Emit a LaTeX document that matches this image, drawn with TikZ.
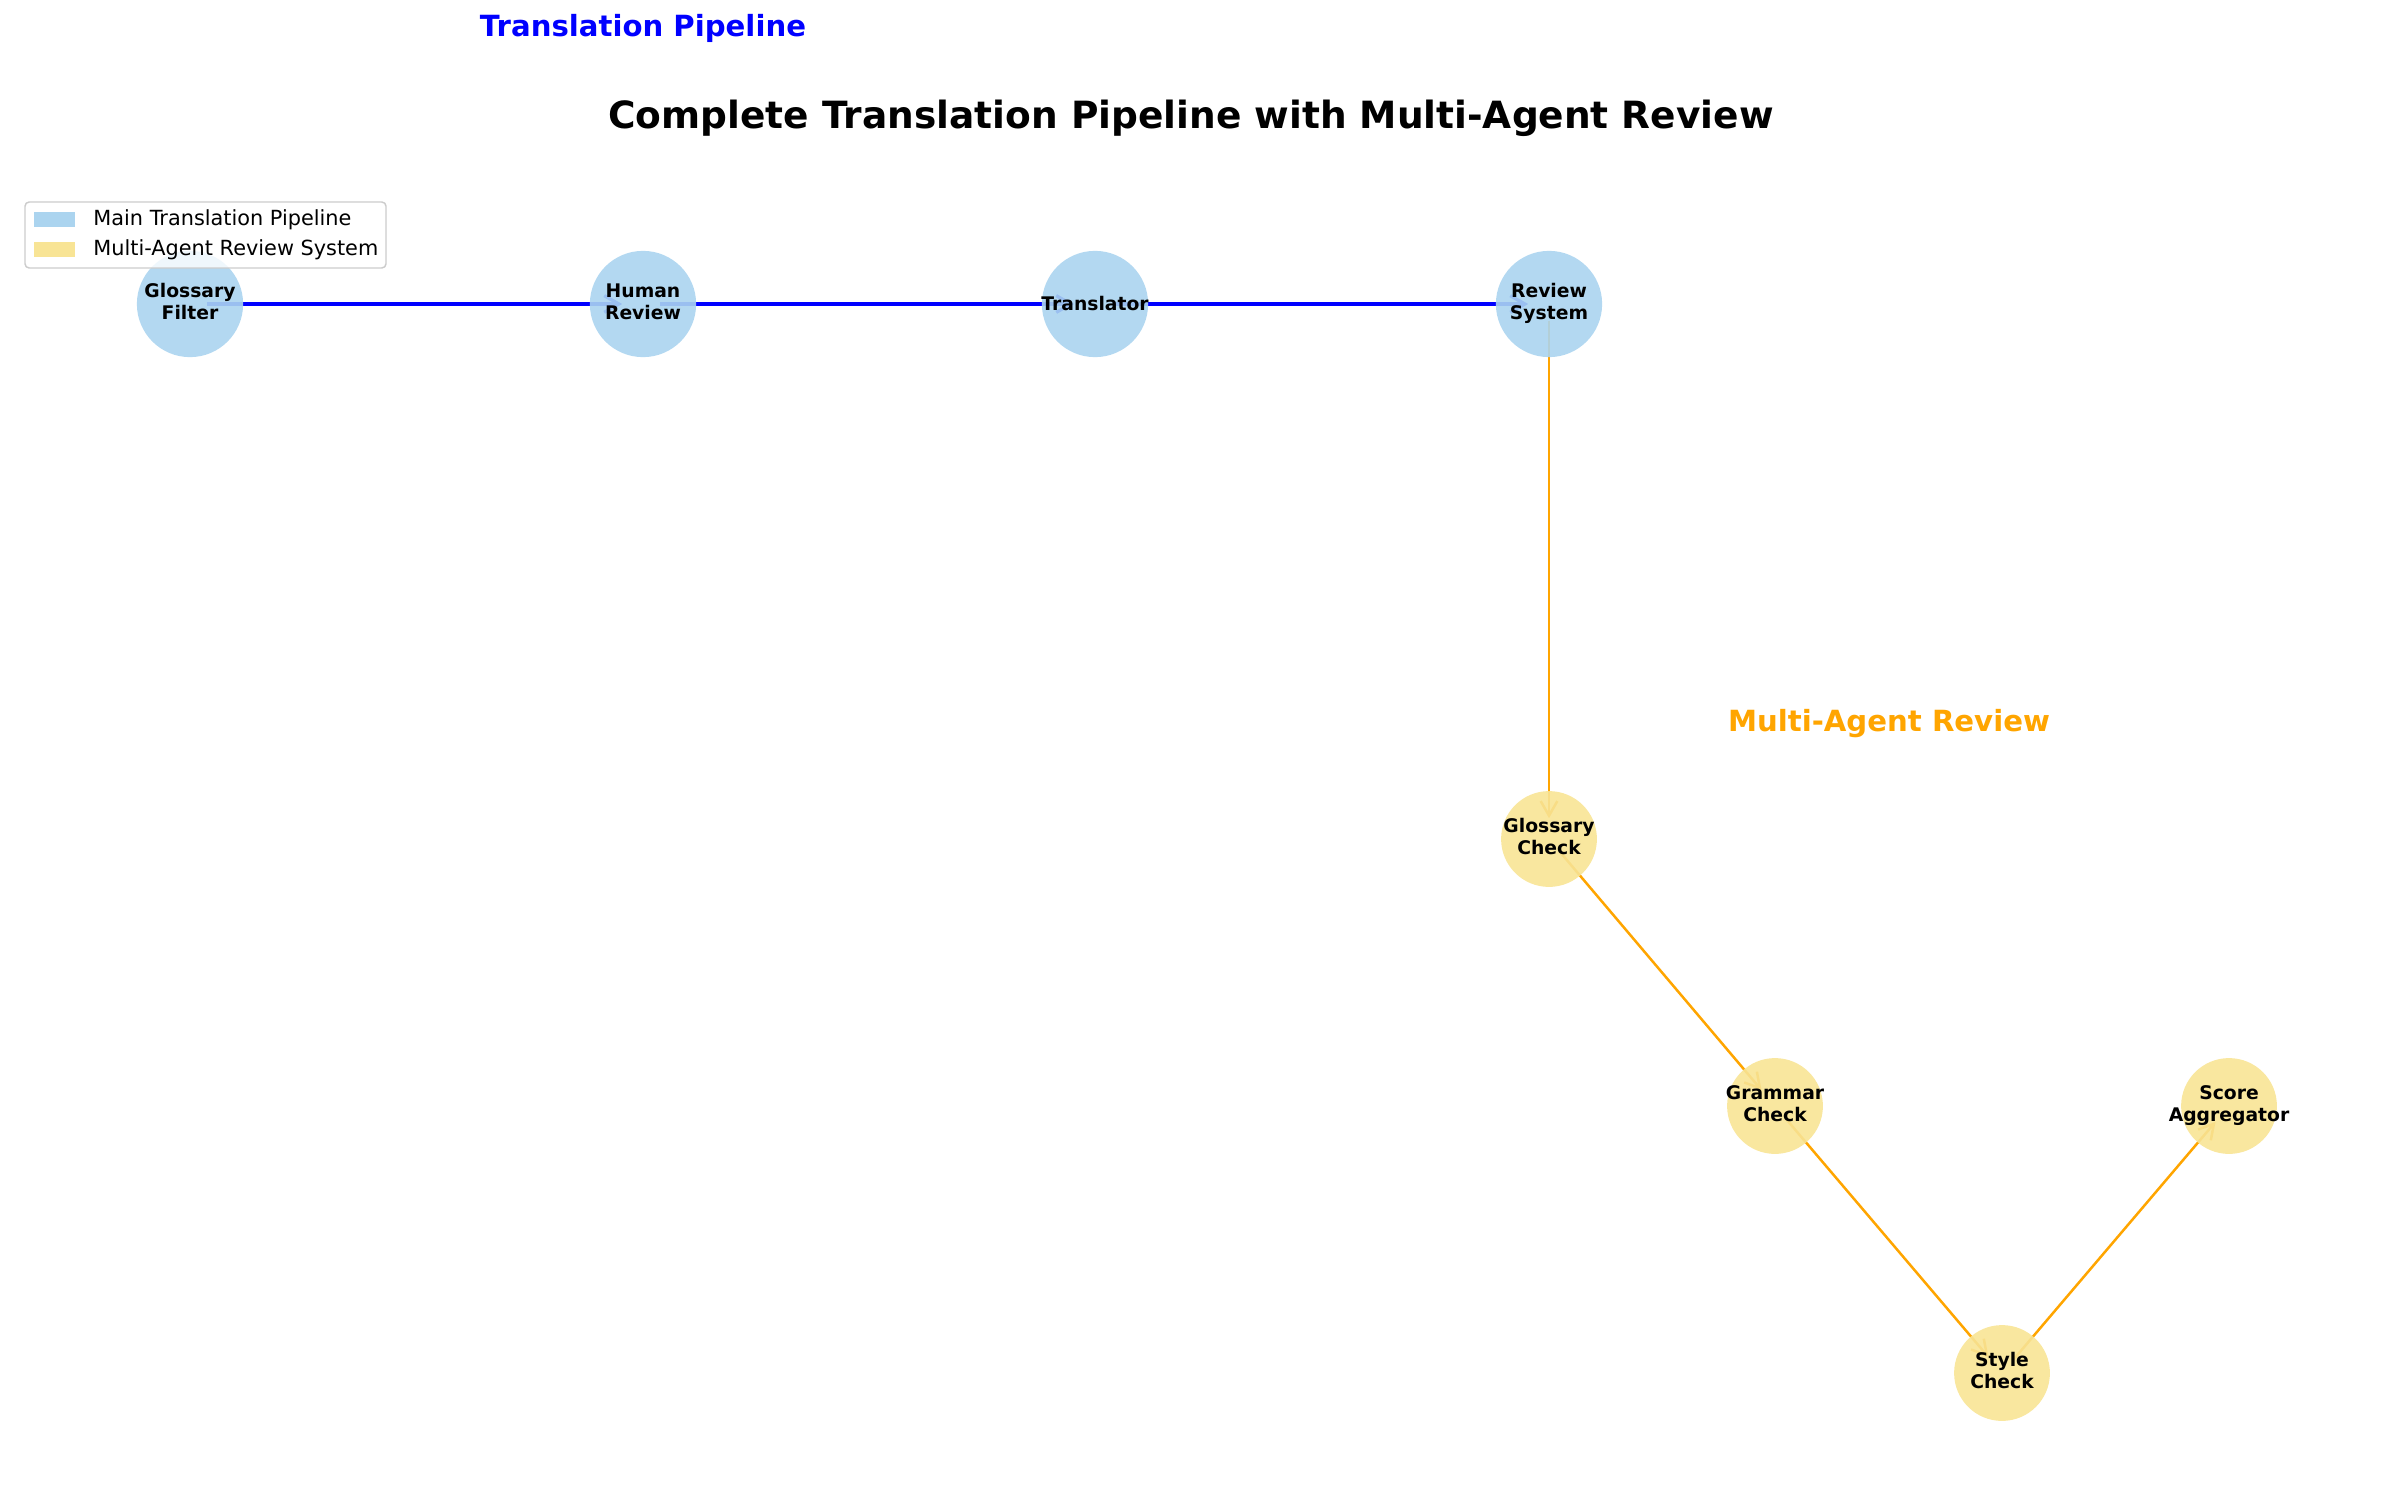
\documentclass[tikz,border=0pt]{standalone}
\usepackage{fontspec}
\setmainfont{DejaVu Sans}
\usetikzlibrary{arrows.meta}
\pgfdeclarelayer{bg}
\pgfsetlayers{bg,main}
\definecolor{nblue}{RGB}{171,212,239}
\definecolor{nyellow}{RGB}{248,228,149}
\definecolor{eorange}{RGB}{255,165,0}
\definecolor{eblue}{RGB}{0,0,255}
\definecolor{lgray}{RGB}{204,204,204}
\newcommand{\twoline}[2]{\makebox[0pt]{\begin{tabular}{@{}c@{}}#1\\#2\end{tabular}}}
\begin{document}
\begin{tikzpicture}[x=0.48pt,y=-0.48pt,
  pnode/.style={circle, fill=nblue, fill opacity=0.9, text opacity=1, minimum size=51pt, inner sep=0pt,
    font=\bfseries\fontsize{9}{10.3}\selectfont, text=black},
  anode/.style={circle, fill=nyellow, fill opacity=0.9, text opacity=1, minimum size=46pt, inner sep=0pt,
    font=\bfseries\fontsize{9}{10.3}\selectfont, text=black},
  bedge/.style={draw=eblue, line width=1.8pt, -{Straight Barb[length=7pt,width=8pt,line width=1.6pt]}, shorten <=8pt, shorten >=10pt},
  oedge/.style={draw=eorange, line width=1.2pt, -{Straight Barb[length=7pt,width=8pt,line width=1.2pt]}, shorten <=8pt, shorten >=10pt},
  lbl/.style={font=\bfseries\fontsize{14}{16}\selectfont},
  legtext/.style={anchor=west, font=\fontsize{10}{12}\selectfont, inner sep=0pt}
]
\useasboundingbox (0,0) rectangle (2385,1501);
% nodes
\node[pnode] (gf) at (190,304) {\twoline{Glossary}{Filter}};
\node[pnode] (hr) at (643,304) {\twoline{Human}{Review}};
\node[pnode] (tr) at (1095,304) {\makebox[0pt]{Translator}};
\node[pnode] (rs) at (1549,304) {\twoline{Review}{System}};
\node[anode] (gc) at (1549,839) {\twoline{Glossary}{Check}};
\node[anode] (grc) at (1775,1106) {\twoline{Grammar}{Check}};
\node[anode] (sc) at (2002,1373) {\twoline{Style}{Check}};
\node[anode] (sa) at (2229,1106) {\twoline{Score}{Aggregator}};
% edges
\begin{pgfonlayer}{bg}
\draw[bedge] (gf.center) -- (hr.center);
\draw[bedge] (hr.center) -- (tr.center);
\draw[bedge] (tr.center) -- (rs.center);
\draw[oedge] (rs.center) -- (gc.center);
\draw[oedge] (gc.center) -- (grc.center);
\draw[oedge] (grc.center) -- (sc.center);
\draw[oedge] (sc.center) -- (sa.center);
\end{pgfonlayer}
% labels
\node[font=\bfseries\fontsize{18}{21}\selectfont] (title) at (1191,118) {Complete Translation Pipeline with Multi-Agent Review};
\node[lbl, text=eblue] (tpl) at (643,28) {Translation Pipeline};
\node[lbl, text=eorange] (mar) at (1889,724) {Multi-Agent Review};
% legend
\draw[draw=lgray, line width=0.7pt, fill=white, fill opacity=0.8, rounded corners=2pt] (25,202) rectangle (386,268);
\fill[nblue] (34,212) rectangle (75,227);
\fill[nyellow] (34,242) rectangle (75,257);
\node[legtext] (l1) at (93,220) {Main Translation Pipeline};
\node[legtext] (l2) at (93,250) {Multi-Agent Review System};
\end{tikzpicture}
\end{document}
